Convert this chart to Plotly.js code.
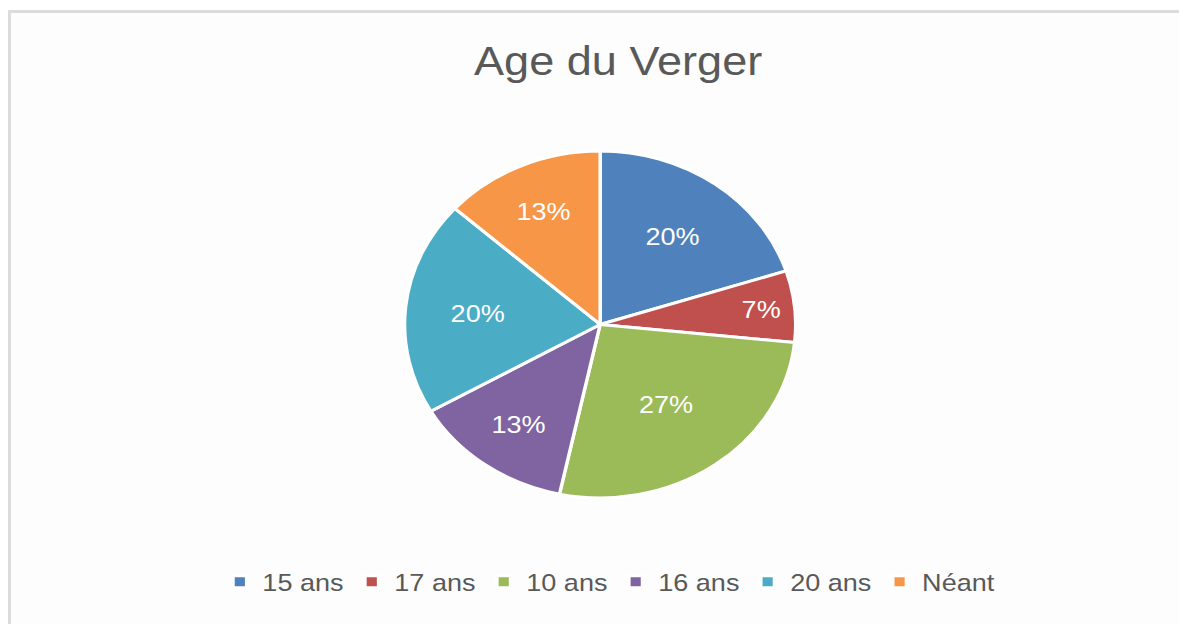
<!DOCTYPE html>
<html>
<head>
<meta charset="utf-8">
<script src="https://cdn.plot.ly/plotly-3.0.1.min.js"></script>
<style>
  html, body { margin: 0; padding: 0; background: #ffffff; }
  #wrap { position: relative; width: 1179px; height: 624px; overflow: hidden; background: #ffffff; }
  #frame { position: absolute; left: 8px; top: 10px; width: 1200px; height: 700px;
           border-left: 3px solid #dcdcdc; border-top: 3px solid #dcdcdc; background: #fdfdfd; }
  #chart { position: absolute; left: 0; top: 0; width: 1046px; height: 624px;
           transform: scaleX(1.1272); transform-origin: 0 0; }
</style>
</head>
<body>
<div id="wrap">
  <div id="frame"></div>
  <div id="chart"></div>
</div>
<script>
const categories = ["15 ans", "17 ans", "10 ans", "16 ans", "20 ans", "Néant"];
const counts = [3, 1, 4, 2, 3, 2];
const sliceColors = ["#4F81BD", "#C0504D", "#9BBB59", "#8064A2", "#4BACC6", "#F79646"];
const chartTitle = "Age du Verger";

const fontFam = "Liberation Sans, Arial, Helvetica, sans-serif";

const data = [{
  type: "pie",
  labels: categories,
  values: counts,
  sort: false,
  direction: "clockwise",
  rotation: 0,
  marker: { colors: sliceColors, line: { color: "#ffffff", width: 3 } },
  textinfo: "percent",
  texttemplate: "%{percent:.0%}",
  textposition: "inside",
  insidetextorientation: "horizontal",
  insidetextfont: { color: "#ffffff", size: 24, family: fontFam },
  hoverinfo: "label+percent",
  domain: { x: [0.3431, 0.6749], y: [0.202, 0.758] }
}];

const layout = {
  width: 1046,
  height: 624,
  margin: { l: 0, r: 0, t: 0, b: 0 },
  paper_bgcolor: "rgba(0,0,0,0)",
  plot_bgcolor: "rgba(0,0,0,0)",
  showlegend: true,
  title: {
    text: chartTitle,
    font: { family: fontFam, size: 40, color: "#595959" },
    x: 0.5243, xanchor: "center",
    y: 0.902, yanchor: "middle"
  },
  legend: {
    orientation: "h",
    x: 0.5165, xanchor: "center",
    y: 0.067, yanchor: "middle",
    font: { family: fontFam, size: 24, color: "#595959" },
    itemclick: false
  }
};

Plotly.newPlot("chart", data, layout, { displayModeBar: false, staticPlot: true });
</script>
</body>
</html>
